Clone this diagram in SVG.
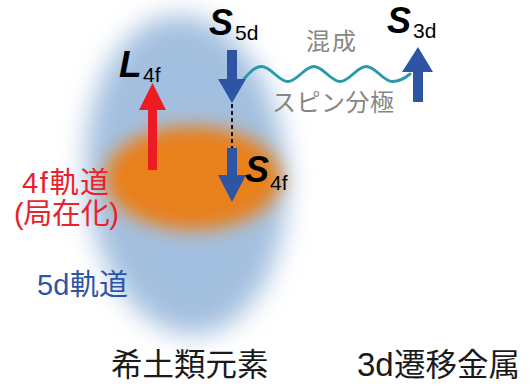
<svg xmlns="http://www.w3.org/2000/svg" width="530" height="385" viewBox="0 0 530 385">
  <defs>
    <filter id="soft" x="-40%" y="-40%" width="180%" height="180%">
      <feGaussianBlur stdDeviation="13"/>
    </filter>
    <filter id="softer" x="-40%" y="-40%" width="180%" height="180%">
      <feGaussianBlur stdDeviation="9"/>
    </filter>
    <style>
      .sym { font-family: "Liberation Sans", Arial, sans-serif; font-weight: bold; font-style: italic; fill: #000; }
      .sub { font-family: "Liberation Sans", Arial, sans-serif; font-size: 21px; fill: #000; }
      .jp { font-family: "Liberation Sans", "Noto Sans CJK JP", sans-serif; }
      .gray { fill: #868686; font-size: 24px; }
      .orb { font-size: 29px; }
      .red { fill: #e8232b; }
      .blue { fill: #2e55a5; }
      .caption { fill: #1a1a1a; font-size: 31.5px; }
      .spin { fill: #2e54a4; }
      .wave { fill: none; stroke: #2a9aa8; stroke-width: 3; stroke-linecap: round; }
      .dash { fill: none; stroke: #111; stroke-width: 2; stroke-dasharray: 4 3; }
    </style>
  </defs>

  <rect width="530" height="385" fill="#fff"/>

  <!-- orbital clouds -->
  <g id="orbital-5d">
    <ellipse cx="186" cy="175" rx="100" ry="160" fill="#a3bfdf" filter="url(#soft)" transform="rotate(-4 186 175)"/>
  </g>
  <g id="orbital-4f">
    <ellipse cx="193" cy="178" rx="88" ry="52" fill="#e8801f" filter="url(#softer)"/>
  </g>

  <!-- connectors -->
  <g id="connectors">
    <path class="dash" d="M232,104 V148"/>
    <path class="wave" d="M244,79 C250,72 255,66.5 261.6,66.5 C271.1,66.5 278.3,81.5 287.8,81.5 C297.3,81.5 304.4,66.5 313.9,66.5 C323.4,66.5 330.6,81.5 340.1,81.5 C349.6,81.5 356.8,66.5 366.3,66.5 C375.8,66.5 382.9,81.5 392.4,81.5 C398.5,81.5 404,79 410,74"/>
    <text class="jp gray" x="306" y="50" textLength="50" lengthAdjust="spacing">混成</text>
    <text class="jp gray" x="272" y="111" textLength="122" lengthAdjust="spacing">スピン分極</text>
  </g>

  <!-- orbital angular momentum of 4f -->
  <g id="L4f">
    <path fill="#ed1c24" d="M148,170 V110 H139 L152.5,83 L166,110 H157 V170 Z"/>
    <text class="sym" x="119" y="77" font-size="37">L</text>
    <text class="sub" x="143" y="82">4f</text>
  </g>

  <!-- 5d spin -->
  <g id="S5d">
    <path class="spin" d="M227,50 H237 V79 H246 L232,103 L218,79 H227 Z"/>
    <text class="sym" x="209" y="35" font-size="36">S</text>
    <text class="sub" x="235" y="40">5d</text>
  </g>

  <!-- 4f spin -->
  <g id="S4f">
    <path class="spin" d="M227,148 H237 V175 H246 L232,202 L218,175 H227 Z"/>
    <text class="sym" x="245" y="182" font-size="36">S</text>
    <text class="sub" x="270" y="190">4f</text>
  </g>

  <!-- 3d spin -->
  <g id="S3d">
    <path class="spin" d="M413,102 V72 H402 L418,47 L433,72 H423 V102 Z"/>
    <text class="sym" x="387" y="33" font-size="36">S</text>
    <text class="sub" x="413" y="38">3d</text>
  </g>

  <!-- orbital labels -->
  <g id="label-4f">
    <text class="jp orb red" x="22" y="193" textLength="87" lengthAdjust="spacing">4f軌道</text>
    <text class="jp orb red" x="14" y="224" textLength="105" lengthAdjust="spacing">(局在化)</text>
  </g>
  <g id="label-5d">
    <text class="jp orb blue" x="37" y="295" textLength="91" lengthAdjust="spacing">5d軌道</text>
  </g>

  <!-- element captions -->
  <g id="caption-rare-earth">
    <text class="jp caption" x="111" y="376">希土類元素</text>
  </g>
  <g id="caption-3d">
    <text class="jp caption" y="376"><tspan x="357" font-size="33">3d</tspan><tspan x="394">遷移金属</tspan></text>
  </g>
</svg>
